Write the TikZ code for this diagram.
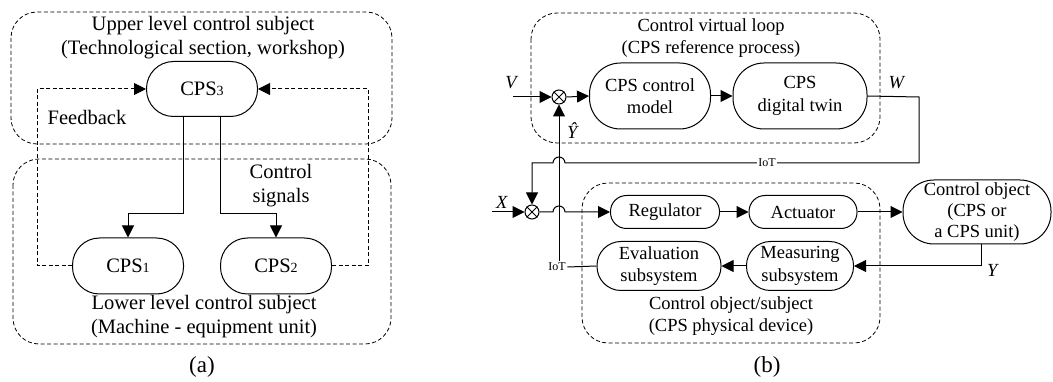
\documentclass[tikz,border=0pt]{standalone}
\usepackage{fontspec}
\setmainfont{Liberation Serif}
\usetikzlibrary{arrows.meta,calc}
\tikzset{
  fa/.style={font=\fontsize{20.5}{24}\selectfont},
  fb/.style={font=\fontsize{18.5}{22.5}\selectfont},
  fc/.style={font=\fontsize{23}{24}\selectfont},
  fs/.style={font=\fontsize{12}{12}\selectfont},
  stad/.style={draw, line width=1pt, rounded corners=#1, inner sep=0pt, align=center},
  grp/.style={draw, line width=0.8pt, dash pattern=on 4pt off 2.5pt, rounded corners=26pt},
  arr/.style={-{Triangle[length=12pt,width=12pt]}},
  ln/.style={line width=1pt},
  sumc/.style={circle, draw, line width=1pt, minimum size=14pt, inner sep=0pt},
  lbl/.style={inner sep=0pt, align=center},
}
\newcommand{\sbs}[1]{{\fontsize{14}{14}\selectfont #1}}
\begin{document}
\begin{tikzpicture}[x=1pt,y=-1pt]
\useasboundingbox (0,0) rectangle (1053,382);
% ---------------- panel (a) ----------------
\draw[grp] (11,12) rectangle (392,144);
\draw[grp] (13,159) rectangle (391,344);
\node[lbl,fa] (ua) at (203,38) {Upper level control subject\\(Technological section, workshop)};
\node[lbl,fa] (la) at (204,317) {Lower level control subject\\(Machine - equipment unit)};
\node[stad=27pt, fa, minimum width=111pt, minimum height=55pt] (c3) at (202,89) {CPS\sbs{3}};
\node[stad=27pt, fa, minimum width=111pt, minimum height=56pt] (c1) at (128,266) {CPS\sbs{1}};
\node[stad=27pt, fa, minimum width=111pt, minimum height=56pt] (c2) at (276,266) {CPS\sbs{2}};
\node[lbl,fa] (fb) at (87,117) {Feedback};
\node[lbl,fa] (cs) at (281,186) {Control\\signals};
\node[lbl,fc] (capa) at (202,367) {(a)};
\coordinate (k1) at (128,214);
\coordinate (k2) at (276,214);
\draw[ln,arr] ([xshift=-19pt]c3.south) |- (k1) -- (c1.north);
\draw[ln,arr] ([xshift=18pt]c3.south) |- (k2) -- (c2.north);
\draw[ln,arr,dash pattern=on 4pt off 2.5pt] (c1.west) -- ++(-35,0) |- (c3.west);
\draw[ln,arr,dash pattern=on 4pt off 2.5pt] (c2.east) -- ++(36,0) |- (c3.east);
% ---------------- panel (b) ----------------
\draw[grp] (531,13) rectangle (880,143);
\draw[grp] (582,183) rectangle (880,343);
\node[lbl,fb] (ub) at (711,38) {Control virtual loop\\(CPS reference process)};
\node[lbl,fb] (lb) at (731,316) {Control object/subject\\(CPS physical device)};
\node[lbl,fc] (capb) at (767,367) {(b)};
\node[sumc] (sv) at (559,97) {};
\node[sumc] (sx) at (532,212) {};
\foreach \s in {sv,sx}{
  \draw[line width=0.8pt] (\s.north east) -- (\s.south west);
  \draw[line width=0.8pt] (\s.north west) -- (\s.south east);
}
\node[stad=31pt, fb, minimum width=121pt, minimum height=66pt] (m) at (650,96) {CPS control\\model};
\node[stad=31pt, fb, minimum width=134pt, minimum height=66pt] (tw) at (800,96) {CPS\\digital twin};
\node[stad=16pt, fb, minimum width=109pt, minimum height=33pt] (reg) at (665,212) {Regulator};
\node[stad=16pt, fb, minimum width=108pt, minimum height=33pt] (act) at (803,212) {Actuator};
\node[stad=24pt, fb, minimum width=124pt, minimum height=49pt] (ev) at (659,266) {Evaluation\\subsystem};
\node[stad=24pt, fb, minimum width=107pt, minimum height=49pt] (me) at (800,266) {Measuring\\subsystem};
\node[stad=31pt, fb, minimum width=148pt, minimum height=64pt, font=\fontsize{18.5}{21}\selectfont] (obj) at (977,212) {Control object\\(CPS or\\a CPS unit)};
\node[lbl,fb] (lv) at (512,83) {\textit{V}};
\node[lbl,fb] (lw) at (897,83) {\textit{W}};
\node[lbl,fb] (lx) at (502,202) {\textit{X}};
\node[lbl,fb] (ly) at (993,270) {\textit{Y}};
\node[lbl,fb] (lyh) at (573,131) {\textit{\^Y}};
\node[fs, inner sep=1.5pt] (iot2) at (557,267) {IoT};
\coordinate (vin) at (513,97);
\coordinate (xin) at (492,212);
\coordinate (w1) at (919,97);
\coordinate (w2) at (919,163);
\coordinate (w3) at (532,163);
\draw[ln,arr] (vin) -- (sv.west);
\draw[ln,arr] (xin) -- (sx.west);
\draw[ln,arr] (sv.east) -- (m.west);
\draw[ln,arr] (m.east) -- (tw.west);
\draw[ln,arr] (tw.east) -- (w1) -- (w2) -- (565,163) arc[start angle=0, end angle=180, radius=6pt] -- (w3) -- (sx.north);
\node[fs, fill=white, inner sep=1.5pt] (iot1) at (767,163) {IoT};
\draw[ln,arr] (sv |- iot2.north) -- (sv.south);
\draw[ln] (ev.west) -- (iot2.east);
\draw[ln,arr] (sx.east) -- (553,212) arc[start angle=180, end angle=0, radius=6pt] -- (reg.west);
\draw[ln,arr] (reg.east) -- (act.west);
\draw[ln,arr] (act.east) -- (obj.west);
\draw[ln,arr] ([xshift=4pt]obj.south) |- (me.east);
\draw[ln,arr] (me.west) -- (ev.east);
\end{tikzpicture}
\end{document}
